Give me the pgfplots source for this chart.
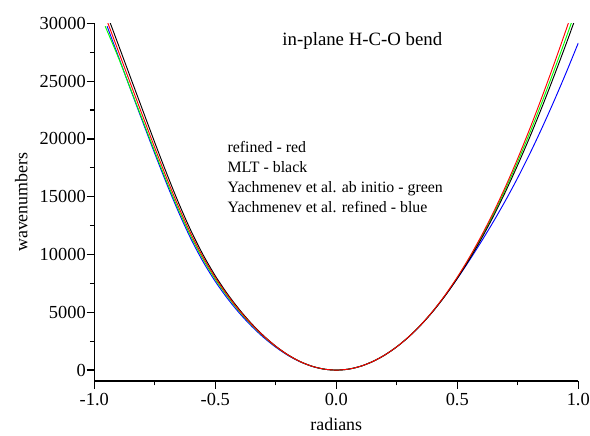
\documentclass[border=0pt]{standalone}
\usepackage{fontspec}
\setmainfont{Liberation Serif}
\usepackage{pgfplots}
\pgfplotsset{compat=1.18}
\begin{document}
\begin{tikzpicture}
\begin{axis}[
 scale only axis, width=363pt, height=268.3pt,
 xmin=-1, xmax=1, ymin=-950, ymax=30000,
 axis x line*=bottom, axis y line*=left,
 axis line style={line width=1.1pt, -},
 xtick={-1,-0.5,0,0.5,1}, xticklabels={-1.0,-0.5,0.0,0.5,1.0},
 ytick={0,5000,10000,15000,20000,25000,30000},
 yticklabels={0,5000,10000,15000,20000,25000,30000},
 scaled y ticks=false, scaled x ticks=false,
 minor x tick num=1, minor y tick num=1,
 tick align=outside, major tick length=5.8pt, minor tick length=3.2pt,
 every tick/.style={black, line width=0.9pt},
 ticklabel style={font=\fontsize{13.8}{15}\selectfont},
 yticklabel style={inner xsep=0.4pt},
 xlabel={radians}, ylabel={wavenumbers},
 label style={font=\fontsize{13.4}{15}\selectfont},
 xlabel style={at={(axis description cs:0.5,-0.12)}, anchor=center},
 ylabel style={at={(axis description cs:-0.151,0.5)}, anchor=center},
]
\coordinate (SW) at (rel axis cs:0,0);
\coordinate (NE) at (rel axis cs:1,1);
\addplot[blue, line width=0.7pt, smooth] coordinates {
(-0.947,29750) (-0.9,27114) (-0.85,24279) (-0.8,21484) (-0.75,18734) (-0.7,16079) (-0.65,13589) (-0.6,11329) (-0.55,9364) (-0.5,7674) (-0.45,6209) (-0.4,4924) (-0.35,3799) (-0.3,2819) (-0.25,1979) (-0.2,1274) (-0.15,722) (-0.1,322) (-0.05,81) (0,0) (0.05,82) (0.1,328) (0.15,736) (0.2,1300) (0.25,2017) (0.3,2889) (0.35,3919) (0.4,5109) (0.45,6449) (0.5,7919) (0.55,9489) (0.6,11139) (0.65,12869) (0.7,14699) (0.75,16649) (0.8,18729) (0.85,20949) (0.9,23289) (0.95,25739) (1.0,28299)
};
\addplot[green, line width=0.7pt, smooth] coordinates {
(-0.955,29750) (-0.9,27019) (-0.85,24319) (-0.8,21609) (-0.75,18899) (-0.7,16269) (-0.65,13789) (-0.6,11539) (-0.55,9569) (-0.5,7859) (-0.45,6379) (-0.4,5069) (-0.35,3914) (-0.3,2904) (-0.25,2034) (-0.2,1309) (-0.15,737) (-0.1,330) (-0.05,83) (0,0) (0.05,82) (0.1,328) (0.15,736) (0.2,1300) (0.25,2019) (0.3,2894) (0.35,3924) (0.4,5119) (0.45,6474) (0.5,7999) (0.55,9684) (0.6,11529) (0.65,13529) (0.7,15709) (0.75,18049) (0.8,20539) (0.85,23179) (0.9,25929) (0.95,28774) (1.0,31724)
};
\addplot[black, line width=0.7pt, smooth] coordinates {
(-0.95,30929) (-0.9,28119) (-0.85,25299) (-0.8,22489) (-0.75,19689) (-0.7,16969) (-0.65,14389) (-0.6,12039) (-0.55,9964) (-0.5,8159) (-0.45,6599) (-0.4,5229) (-0.35,4019) (-0.3,2969) (-0.25,2069) (-0.2,1327) (-0.15,747) (-0.1,332) (-0.05,83) (0,0) (0.05,82) (0.1,328) (0.15,735) (0.2,1297) (0.25,2012) (0.3,2882) (0.35,3909) (0.4,5089) (0.45,6429) (0.5,7929) (0.55,9579) (0.6,11379) (0.65,13339) (0.7,15469) (0.75,17759) (0.8,20179) (0.85,22749) (0.9,25449) (0.95,28234) (1.0,31124)
};
\addplot[red, line width=0.7pt, smooth] coordinates {
(-0.95,30369) (-0.9,27569) (-0.85,24769) (-0.8,21989) (-0.75,19239) (-0.7,16569) (-0.65,14049) (-0.6,11759) (-0.55,9749) (-0.5,8009) (-0.45,6489) (-0.4,5149) (-0.35,3969) (-0.3,2939) (-0.25,2054) (-0.2,1319) (-0.15,742) (-0.1,330) (-0.05,83) (0,0) (0.05,82) (0.1,328) (0.15,736) (0.2,1300) (0.25,2019) (0.3,2894) (0.35,3929) (0.4,5129) (0.45,6499) (0.5,8039) (0.55,9749) (0.6,11629) (0.65,13679) (0.7,15909) (0.75,18319) (0.8,20899) (0.85,23629) (0.9,26489) (0.95,29464) (1.0,32544)
};
\node[anchor=base east, font=\fontsize{14.1}{16}\selectfont, inner sep=0pt] at (axis cs:0.439,28121) {in-plane H-C-O bend};
\node[anchor=base west, font=\fontsize{11.9}{14}\selectfont, inner sep=0pt] at (axis cs:-0.450,18802) {refined - red};
\node[anchor=base west, font=\fontsize{11.9}{14}\selectfont, inner sep=0pt] at (axis cs:-0.450,17072) {MLT - black};
\node[anchor=base west, font=\fontsize{11.9}{14}\selectfont, inner sep=0pt] at (axis cs:-0.450,15341) {Yachmenev et al. ab initio - green};
\node[anchor=base west, font=\fontsize{11.9}{14}\selectfont, inner sep=0pt] at (axis cs:-0.450,13672) {Yachmenev et al. refined - blue};
\end{axis}
\pgfresetboundingbox
\path ([shift={(-70.7pt,-40.5pt)}]SW) rectangle ([shift={(8.8pt,17.5pt)}]NE);
\end{tikzpicture}
\end{document}
